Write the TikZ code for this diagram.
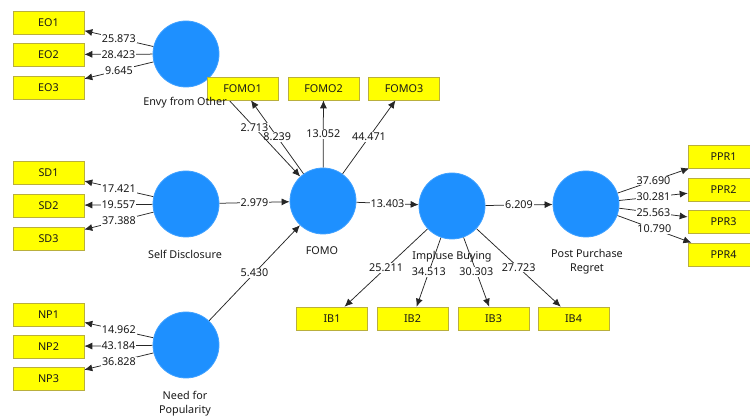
\documentclass[tikz,border=0pt]{standalone}
\usepackage{fontspec}
\setmainfont{Noto Sans}
\usetikzlibrary{arrows.meta,backgrounds}
\definecolor{lvblue}{RGB}{30,144,255}
\definecolor{indy}{RGB}{255,255,0}
\definecolor{indb}{RGB}{185,175,60}
\definecolor{txt}{RGB}{25,25,25}
\begin{document}
\begin{tikzpicture}[x=1pt,y=-1pt,
 lv/.style={circle,fill=lvblue,draw=lvblue!85!white,line width=0.8pt,minimum size=66pt,inner sep=0pt},
 box/.style={rectangle,fill=indy,draw=indb,line width=0.6pt,minimum width=71pt,minimum height=23pt,inner sep=0pt,font=\fontsize{10.8}{12}\selectfont,text=txt},
 con/.style={draw=black!85,line width=0.75pt,-{Latex[length=8pt,width=7pt]}},
 lbl/.style={fill=white,inner sep=0.8pt,font=\fontsize{10.8}{12}\selectfont,text=txt},
 captxt/.style={font=\fontsize{10.8}{14}\selectfont,text=txt,align=center,inner sep=0pt}]
\useasboundingbox (0,0) rectangle (750,419);

% latent variables
\node[lv] (E) at (186,54) {};
\node[lv] (S) at (186,204) {};
\node[lv] (N) at (186,345) {};
\node[lv] (F) at (323,201) {};
\node[lv] (I) at (452,206) {};
\node[lv] (P) at (586,204) {};

% indicators
\node[box] (EO1) at (48.5,22.5) {EO1};
\node[box] (EO2) at (48.5,54.5) {EO2};
\node[box] (EO3) at (48.5,87.5) {EO3};
\node[box] (SD1) at (48.5,173) {SD1};
\node[box] (SD2) at (48.5,205.5) {SD2};
\node[box] (SD3) at (48.5,238.5) {SD3};
\node[box] (NP1) at (48.5,314.5) {NP1};
\node[box] (NP2) at (48.5,346.5) {NP2};
\node[box] (NP3) at (48.5,378.5) {NP3};
\node[box] (FOMO1) at (242.5,88.5) {FOMO1};
\node[box] (FOMO2) at (323.5,88.5) {FOMO2};
\node[box] (FOMO3) at (404,88.5) {FOMO3};
\node[box] (IB1) at (332,318.5) {IB1};
\node[box] (IB2) at (412.5,318.5) {IB2};
\node[box] (IB3) at (493.5,318.5) {IB3};
\node[box] (IB4) at (573.5,318.5) {IB4};
\node[box] (PPR1) at (723.5,156.5) {PPR1};
\node[box] (PPR2) at (723.5,189.5) {PPR2};
\node[box] (PPR3) at (723.5,221.5) {PPR3};
\node[box] (PPR4) at (723.5,254.5) {PPR4};

% captions
\node[captxt] (cE) at (185,103) {Envy from Other};
\node[captxt] (cS) at (185,254) {Self Disclosure};
\node[captxt] (cN) at (185,404) {Need for\\Popularity};
\node[captxt] (cF) at (322,251) {FOMO};
\node[captxt] (cI) at (452,257) {Impluse Buying};
\node[captxt] (cP) at (587,262) {Post Purchase\\Regret};

\begin{scope}[on background layer]
% outer loadings
\draw[con] (E) -- node[lbl]{25.873} (EO1);
\draw[con] (E) -- node[lbl]{28.423} (EO2);
\draw[con] (E) -- node[lbl]{9.645} (EO3);
\draw[con] (S) -- node[lbl]{17.421} (SD1);
\draw[con] (S) -- node[lbl]{19.557} (SD2);
\draw[con] (S) -- node[lbl]{37.388} (SD3);
\draw[con] (N) -- node[lbl]{14.962} (NP1);
\draw[con] (N) -- node[lbl]{43.184} (NP2);
\draw[con] (N) -- node[lbl]{36.828} (NP3);
\draw[con] (F) -- node[lbl]{8.239} (FOMO1);
\draw[con] (F) -- node[lbl]{13.052} (FOMO2);
\draw[con] (F) -- node[lbl]{44.471} (FOMO3);
\draw[con] (I) -- node[lbl]{25.211} (IB1);
\draw[con] (I) -- node[lbl]{34.513} (IB2);
\draw[con] (I) -- node[lbl]{30.303} (IB3);
\draw[con] (I) -- node[lbl]{27.723} (IB4);
\draw[con] (P) -- node[lbl]{37.690} (PPR1);
\draw[con] (P) -- node[lbl]{30.281} (PPR2);
\draw[con] (P) -- node[lbl]{25.563} (PPR3);
\draw[con] (P) -- node[lbl]{10.790} (PPR4);
% structural paths
\draw[con] (E) -- node[lbl]{2.713} (F);
\draw[con] (S) -- node[lbl]{2.979} (F);
\draw[con] (N) -- node[lbl]{5.430} (F);
\draw[con] (F) -- node[lbl]{13.403} (I);
\draw[con] (I) -- node[lbl]{6.209} (P);
\end{scope}
\end{tikzpicture}
\end{document}
